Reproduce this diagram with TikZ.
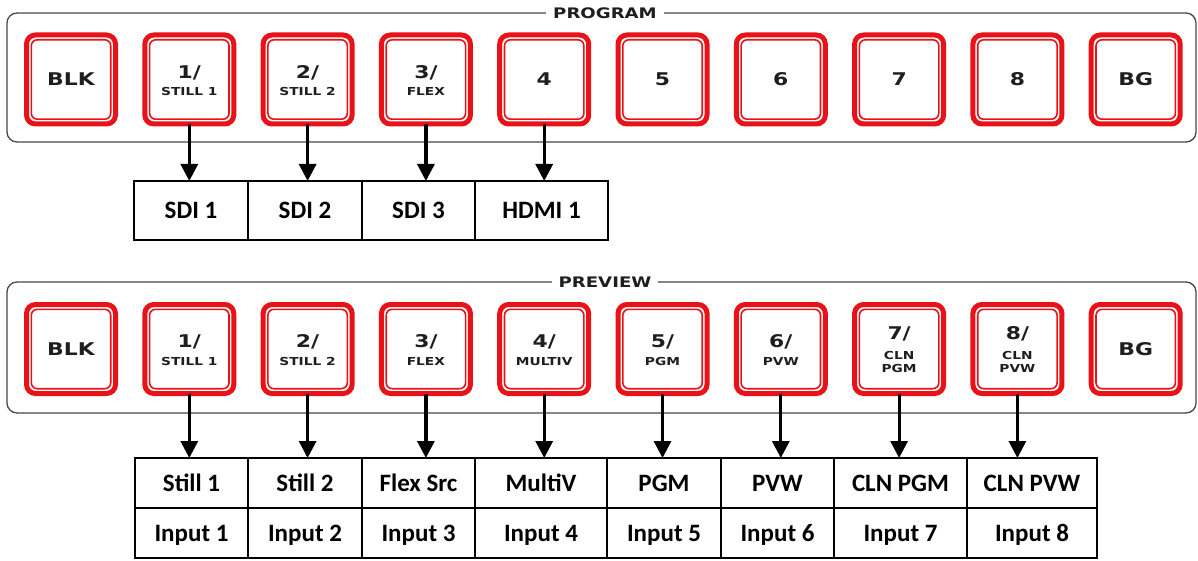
\documentclass[tikz,border=0pt]{standalone}
\usepackage{fontspec}
\setmainfont{Carlito}
\newfontfamily\keyfont[FakeStretch=1.25]{DejaVu Sans}
\usetikzlibrary{arrows.meta,calc}
\definecolor{keyred}{RGB}{232,18,24}
\definecolor{keyink}{RGB}{30,30,30}

\begin{document}
\begin{tikzpicture}[x=1pt,y=-1pt,>={Triangle[length=17pt,width=17pt]},
  panel/.style={draw=black!72,line width=1.3pt,rounded corners=10pt},
  paneltitle/.style={fill=white,inner xsep=7pt,inner ysep=2pt,text=keyink,
    font=\keyfont\bfseries\fontsize{14.5}{15}\selectfont},
  keybtn/.style={draw=keyred,fill=white,line width=5pt,rounded corners=9pt,
    minimum width=89pt,minimum height=89pt,outer sep=0pt},
  keyrim/.style={draw=keyred,line width=1.6pt,rounded corners=6pt},
  bigkey/.style={inner sep=0pt,text height=12.8pt,text depth=0pt,text=keyink,
    font=\keyfont\bfseries\fontsize{17.5}{18}\selectfont},
  smallkey/.style={inner sep=0pt,text height=8pt,text depth=0pt,text=keyink,
    font=\keyfont\bfseries\fontsize{11}{12}\selectfont},
  cell/.style={draw,line width=2.3pt,outer sep=0pt,inner sep=0pt,
    text height=17pt,text depth=0pt,font=\bfseries\fontsize{25}{26}\selectfont},
  feed/.style={->,line width=3.2pt}]

\useasboundingbox (0,0) rectangle (1198,561);

%---------------- Program row ----------------
\draw[panel] (7,13) rectangle (1196,142);
\node[paneltitle] (pgmtitle) at (605,13) {PROGRAM};

\foreach \i [evaluate=\i as \x using 71+118.3*\i] in {0,...,9} {
  \node[keybtn] (p\i) at (\x,79.5) {};
  \draw[keyrim] ($(p\i.north west)+(4.8,4.8)$) rectangle ($(p\i.south east)+(-4.8,-4.8)$);
}

% Key labels
\node[bigkey] (p0t) at (p0) {BLK};
\node[bigkey] (p1t) at ($(p1)+(0,-7.5)$) {1/};
\node[smallkey] (p1s) at ($(p1)+(0,12.5)$) {STILL 1};
\node[bigkey] (p2t) at ($(p2)+(0,-7.5)$) {2/};
\node[smallkey] (p2s) at ($(p2)+(0,12.5)$) {STILL 2};
\node[bigkey] (p3t) at ($(p3)+(0,-7.5)$) {3/};
\node[smallkey] (p3s) at ($(p3)+(0,12.5)$) {FLEX};
\node[bigkey] (p4t) at (p4) {4};
\node[bigkey] (p5t) at (p5) {5};
\node[bigkey] (p6t) at (p6) {6};
\node[bigkey] (p7t) at (p7) {7};
\node[bigkey] (p8t) at (p8) {8};
\node[bigkey] (p9t) at (p9) {BG};

% Program sources
\node[cell,minimum width=114pt,minimum height=59pt] (sdi1) at (191,210.5) {SDI 1};
\node[cell,minimum width=114pt,minimum height=59pt] (sdi2) at (305,210.5) {SDI 2};
\node[cell,minimum width=113pt,minimum height=59pt] (sdi3) at (418.5,210.5) {SDI 3};
\node[cell,minimum width=133pt,minimum height=59pt] (hdmi1) at (541.5,210.5) {HDMI 1};

\draw[feed] (p1.south) -- (p1.south |- sdi1.north);
\draw[feed] (p2.south) -- (p2.south |- sdi2.north);
\draw[feed] (p3.south) -- (p3.south |- sdi3.north);
\draw[feed] (p4.south) -- (p4.south |- hdmi1.north);

%---------------- Preview row ----------------
\draw[panel] (7,282) rectangle (1196,413);
\node[paneltitle] (pvwtitle) at (605,282) {PREVIEW};

\foreach \i [evaluate=\i as \x using 71+118.3*\i] in {0,...,9} {
  \node[keybtn] (v\i) at (\x,349) {};
  \draw[keyrim] ($(v\i.north west)+(4.8,4.8)$) rectangle ($(v\i.south east)+(-4.8,-4.8)$);
}

% Key labels
\node[bigkey] (v0t) at (v0) {BLK};
\node[bigkey] (v1t) at ($(v1)+(0,-7.5)$) {1/};
\node[smallkey] (v1s) at ($(v1)+(0,12.5)$) {STILL 1};
\node[bigkey] (v2t) at ($(v2)+(0,-7.5)$) {2/};
\node[smallkey] (v2s) at ($(v2)+(0,12.5)$) {STILL 2};
\node[bigkey] (v3t) at ($(v3)+(0,-7.5)$) {3/};
\node[smallkey] (v3s) at ($(v3)+(0,12.5)$) {FLEX};
\node[bigkey] (v4t) at ($(v4)+(0,-7.5)$) {4/};
\node[smallkey] (v4s) at ($(v4)+(0,12.5)$) {MULTIV};
\node[bigkey] (v5t) at ($(v5)+(0,-7.5)$) {5/};
\node[smallkey] (v5s) at ($(v5)+(0,12.5)$) {PGM};
\node[bigkey] (v6t) at ($(v6)+(0,-7.5)$) {6/};
\node[smallkey] (v6s) at ($(v6)+(0,12.5)$) {PVW};
\node[bigkey] (v7t) at ($(v7)+(0,-16)$) {7/};
\node[smallkey] (v7s) at ($(v7)+(0,6)$) {CLN};
\node[smallkey] (v7u) at ($(v7)+(0,19)$) {PGM};
\node[bigkey] (v8t) at ($(v8)+(0,-16)$) {8/};
\node[smallkey] (v8s) at ($(v8)+(0,6)$) {CLN};
\node[smallkey] (v8u) at ($(v8)+(0,19)$) {PVW};
\node[bigkey] (v9t) at (v9) {BG};

% Preview sources, top row
\node[cell,minimum width=113pt,minimum height=50pt] (src1) at (191.5,483) {Still 1};
\node[cell,minimum width=114pt,minimum height=50pt] (src2) at (305,483) {Still 2};
\node[cell,minimum width=113pt,minimum height=50pt] (src3) at (418.5,483) {Flex Src};
\node[cell,minimum width=132pt,minimum height=50pt] (src4) at (541,483) {MultiV};
\node[cell,minimum width=114pt,minimum height=50pt] (src5) at (664,483) {PGM};
\node[cell,minimum width=113pt,minimum height=50pt] (src6) at (777.5,483) {PVW};
\node[cell,minimum width=133pt,minimum height=50pt] (src7) at (900.5,483) {CLN PGM};
\node[cell,minimum width=130pt,minimum height=50pt] (src8) at (1032,483) {CLN PVW};

% Preview sources, bottom row
\node[cell,minimum width=113pt,minimum height=50pt] (in1) at (191.5,533) {Input 1};
\node[cell,minimum width=114pt,minimum height=50pt] (in2) at (305,533) {Input 2};
\node[cell,minimum width=113pt,minimum height=50pt] (in3) at (418.5,533) {Input 3};
\node[cell,minimum width=132pt,minimum height=50pt] (in4) at (541,533) {Input 4};
\node[cell,minimum width=114pt,minimum height=50pt] (in5) at (664,533) {Input 5};
\node[cell,minimum width=113pt,minimum height=50pt] (in6) at (777.5,533) {Input 6};
\node[cell,minimum width=133pt,minimum height=50pt] (in7) at (900.5,533) {Input 7};
\node[cell,minimum width=130pt,minimum height=50pt] (in8) at (1032,533) {Input 8};

\foreach \i in {1,...,8}
  \draw[feed] (v\i.south) -- (v\i.south |- src\i.north);

\end{tikzpicture}
\end{document}
